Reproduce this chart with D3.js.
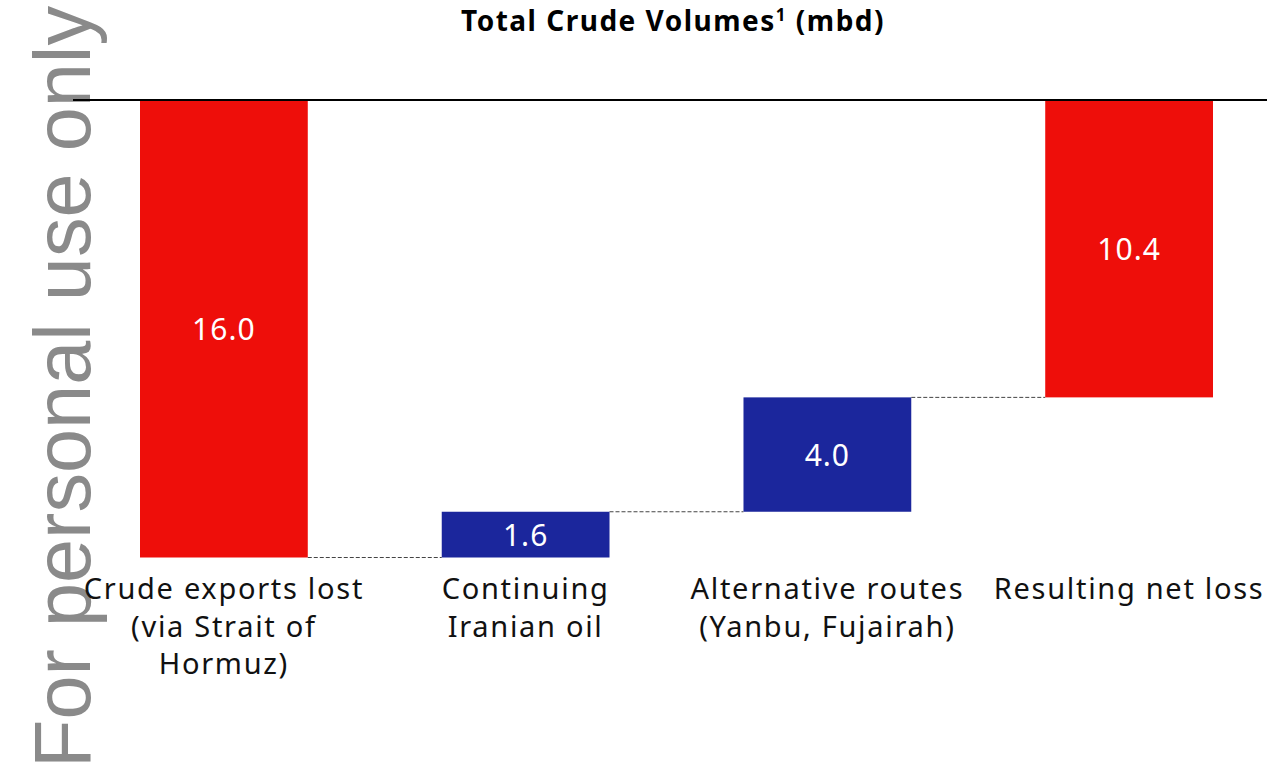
<!DOCTYPE html>
<html>
<head>
<meta charset="utf-8">
<style>
    body { margin: 0; background: #fff; }
    svg { display: block; }
    .cat { font-family: "Noto Sans", sans-serif; font-size: 29px; letter-spacing: 1.7px; fill: #111; }
    .val { font-family: "Noto Sans", sans-serif; font-size: 30px; letter-spacing: 1px; fill: #fff; }
    .title { font-family: "Noto Sans", sans-serif; font-size: 28px; font-weight: bold; letter-spacing: 1.5px; fill: #000; }
    .mark { font-family: "Liberation Sans", Arial, sans-serif; font-size: 80px; fill: #8a8a8a; }
</style>
</head>
<body>
<svg></svg>
<script src="https://d3js.org/d3.v7.min.js"></script>
<script>
    var vWidth = 1267;
    var vHeight = 771;

    // chart data
    var categories = ['Crude exports lost|(via Strait of|Hormuz)', 'Continuing|Iranian oil',
        'Alternative routes|(Yanbu, Fujairah)', 'Resulting net loss'];
    var values = [16.0, -1.6, -4.0, 10.4];
    var kinds = ['total', 'step', 'step', 'total'];
    var colors = {total: '#ee0e0a', step: '#1b269c'};

    // running totals for the waterfall
    var bars = [];
    var level = 0;
    values.forEach(function (v, i) {
        var b = {cat: categories[i], v: v, kind: kinds[i]};
        if (kinds[i] === 'total') { b.y0 = 0; b.y1 = v; level = v; }
        else { b.y0 = level; b.y1 = level + v; level = level + v; }
        bars.push(b);
    });

    var svg = d3.select('svg').attr('width', vWidth).attr('height', vHeight);

    // watermark
    svg.append('text').attr('class', 'mark')
        .attr('transform', 'translate(90,768) rotate(-90)')
        .attr('textLength', 762).attr('lengthAdjust', 'spacingAndGlyphs')
        .text('For personal use only');

    var x = d3.scaleBand().domain(categories).range([140, 1213]).paddingInner(0.444).paddingOuter(0);
    var y = d3.scaleLinear().domain([0, 16]).range([100, 557.5]);

    // title
    var t = svg.append('text').attr('class', 'title').attr('x', 673).attr('y', 31).attr('text-anchor', 'middle');
    t.append('tspan').text('Total Crude Volumes');
    t.append('tspan').attr('font-size', '17px').attr('dy', -10).text('1');
    t.append('tspan').attr('dy', 10).text(' (mbd)');

    // connectors
    var g = svg.append('g');
    g.selectAll('line.conn').data(bars.slice(0, -1)).enter().append('line')
        .attr('class', 'conn')
        .attr('x1', function (d) { return x(d.cat) + x.bandwidth(); })
        .attr('x2', function (d, i) { return x(bars[i + 1].cat); })
        .attr('y1', function (d) { return y(d.y1); })
        .attr('y2', function (d) { return y(d.y1); })
        .attr('stroke', '#444').attr('stroke-width', 1).attr('stroke-dasharray', '4,2');

    g.selectAll('rect').data(bars).enter().append('rect')
        .attr('x', function (d) { return x(d.cat); })
        .attr('width', x.bandwidth())
        .attr('y', function (d) { return y(Math.min(d.y0, d.y1)); })
        .attr('height', function (d) { return Math.abs(y(d.y1) - y(d.y0)); })
        .attr('fill', function (d) { return colors[d.kind]; });

    g.selectAll('text.val').data(bars).enter().append('text')
        .attr('class', 'val')
        .attr('x', function (d) { return x(d.cat) + x.bandwidth() / 2; })
        .attr('y', function (d) { return (y(d.y0) + y(d.y1)) / 2; })
        .attr('text-anchor', 'middle').attr('dominant-baseline', 'central')
        .text(function (d) { return Math.abs(d.v).toFixed(1); });

    // baseline
    svg.append('line').attr('x1', 73).attr('x2', vWidth).attr('y1', y(0)).attr('y2', y(0))
        .attr('stroke', '#000').attr('stroke-width', 2);

    // category labels
    var cl = svg.selectAll('text.cat').data(categories).enter().append('text')
        .attr('class', 'cat').attr('text-anchor', 'middle')
        .attr('transform', function (d) { return 'translate(' + (x(d) + x.bandwidth() / 2) + ',599)'; });
    cl.selectAll('tspan').data(function (d) { return d.split('|'); }).enter().append('tspan')
        .attr('x', 0).attr('y', function (d, i) { return i * 37.5; })
        .text(function (d) { return d; });
</script>
</body>
</html>
